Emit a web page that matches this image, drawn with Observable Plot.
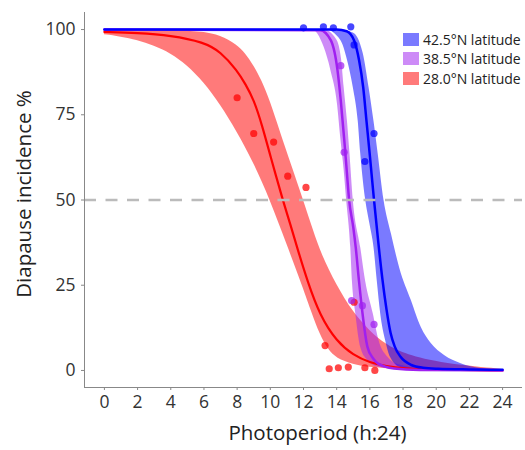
<!DOCTYPE html>
<html>
<head>
<meta charset="utf-8">
<script src="https://cdn.jsdelivr.net/npm/d3@7"></script>
<script src="https://cdn.jsdelivr.net/npm/@observablehq/plot@0.6"></script>
<style>
  body { margin: 0; background: white; }
  #wrap { position: relative; width: 525px; height: 450px; font-family: "Open Sans", sans-serif; }
  #legend { position: absolute; left: 403px; top: 30px; }
  .row { display: flex; align-items: center; height: 19.3px; }
  .sw { width: 16px; height: 13px; margin-right: 4px; }
  .lab { font-size: 14px; color: #222; white-space: nowrap; }
</style>
</head>
<body>
<div id="wrap"><div id="legend"></div></div>
<script>
// ---------- data ----------
const groups = ["42.5°N latitude", "38.5°N latitude", "28.0°N latitude"];
const xTicks = [0, 2, 4, 6, 8, 10, 12, 14, 16, 18, 20, 22, 24];
const yTicks = [0, 25, 50, 75, 100];
const xDomain = [-1.2, 25.2];
const yDomain = [-5, 105];
const refLevel = [50];

// fitted curves (photoperiod, diapause %)
const lineBlue = [[0,100],[14,100],[14.6,99.5],[15.05,96.8],[15.35,91],[15.6,83],[15.8,73],[16.0,63],[16.25,50],[16.5,38],[16.75,27],[17.0,18],[17.25,11],[17.5,7],[17.85,4],[18.5,1.6],[19.2,0.8],[20.1,0.5],[22,0.3],[24,0.2]];
const linePurple = [[0,100],[13,99.8],[13.65,96.8],[14.05,88],[14.25,79],[14.45,68],[14.6,59],[14.75,50],[15.0,42],[15.15,36],[15.35,26],[15.55,17],[15.85,7],[16.2,3.5],[16.5,2],[17.45,0.6],[19,0.15],[24,0]];
const lineRed = [[0,99.3],[2,99],[4,98.3],[6,96.3],[7,93.5],[8,88],[8.5,84],[9,79.5],[9.5,72],[10,63],[10.75,50],[11.2,43],[11.65,35.5],[12.25,26],[13,16],[14,8.5],[15,4.5],[16,2.3],[17,1.2],[18,0.6],[20,0.2],[24,0]];

// confidence bands: lower edge and upper edge
const bandBlueLower = [[0,100],[13.3,100],[14.25,96.8],[14.65,91],[15.0,83],[15.3,73],[15.45,63.6],[15.75,50],[16.0,43],[16.25,36],[16.45,26],[16.65,16.7],[16.95,8.8],[17.25,3.8],[17.85,0.9],[19,0.2],[24,0]];
const bandBlueUpper = [[0,100],[14,100],[15,99],[15.6,93],[15.95,83],[16.25,73],[16.5,63.6],[16.85,50],[17.3,40],[17.8,30],[18.5,20.5],[19.1,12.6],[19.7,7.9],[20.5,4.4],[21.5,2],[22.7,0.6],[24,0.2]];
const bandPurpleLower = [[0,100],[12.5,100],[13.25,94.7],[13.65,88],[14.05,78],[14.25,68],[14.45,58.7],[14.6,50],[14.85,36],[14.95,26],[15.15,16.7],[15.45,6.7],[15.85,3],[16.5,1],[18,0.1],[24,0]];
const bandPurpleUpper = [[0,100],[13.2,100],[14.0,97],[14.3,91],[14.45,83],[14.65,73],[14.8,63.6],[15.0,50],[15.45,36],[15.75,26],[16.2,16.7],[16.55,8.8],[17.1,3.8],[17.85,1.5],[19.5,0.3],[24,0]];
const bandRedLower = [[0,98.5],[1,97.8],[2,96.8],[3,95.2],[4,93],[5,89.5],[6,84.5],[7,78],[8,70],[9,61],[10,50],[11,37],[12,24],[12.5,17],[13,10.5],[13.5,6],[14,3.5],[15,1.7],[16,0.8],[18,0.2],[20,0.05],[24,0]];
const bandRedUpper = [[0,100],[2,100],[4,99.8],[6,99.3],[7,98.2],[8,95.5],[8.5,93],[9,89.5],[9.5,85],[10,79],[10.6,70],[11.3,60],[12,50],[12.6,41],[13.1,34],[14,25],[15,17],[16,11.5],[17,7.5],[18,5],[20,2.2],[24,0.3]];

// observations
const dotsBlue = [[12.0,100.5],[13.2,100.8],[13.8,100.5],[14.85,100.8],[15.05,95.5],[16.25,69.5],[15.7,61.3]];
const dotsPurple = [[14.25,89.4],[14.45,64],[14.9,20.5],[15.55,19],[16.25,13.5]];
const dotsRed = [[8.0,80],[9.0,69.5],[10.2,67],[11.05,57],[12.15,53.7],[13.3,7.3],[13.55,0.5],[14.1,0.8],[14.7,1],[15.05,20],[15.7,0.8],[16.3,0]];

// ---------- build ----------
const pts = (arr, g) => arr.map(([x, y]) => ({x, y, g}));
const band = (lo, up, g) => lo.map((p, i) => ({x1: p[0], y1: p[1], x2: up[i][0], y2: up[i][1], g}));
const [gB, gP, gR] = groups;
const colorRange = ["#0000FF", "#A020F0", "#FF0000"];
const bandOpacity = 0.52;

const areaOpts = {x1: "x1", y1: "y1", x2: "x2", y2: "y2", fill: "g", fillOpacity: bandOpacity, curve: "monotone-x"};
const lineOpts = {x: "x", y: "y", stroke: "g", strokeWidth: 2.5, curve: "monotone-x"};
const dotOpts = {x: "x", y: "y", fill: "g", fillOpacity: 0.72, r: 3.6};

const chart = Plot.plot({
  width: 525, height: 450,
  marginLeft: 84, marginRight: 3, marginTop: 12, marginBottom: 63,
  style: {fontFamily: "Open Sans, sans-serif", background: "white"},
  x: {domain: xDomain},
  y: {domain: yDomain},
  color: {domain: groups, range: colorRange},
  marks: [
    Plot.area(band(bandRedLower, bandRedUpper, gR), {...areaOpts, curve: "basis"}),
    Plot.area(band(bandPurpleLower, bandPurpleUpper, gP), areaOpts),
    Plot.area(band(bandBlueLower, bandBlueUpper, gB), areaOpts),
    Plot.line(pts(lineRed, gR), {...lineOpts, strokeWidth: 2.2, curve: "basis"}),
    Plot.line(pts(linePurple, gP), lineOpts),
    Plot.line(pts(lineBlue, gB), lineOpts),
    Plot.ruleY(refLevel, {stroke: "#bbbbbb", strokeWidth: 2.5, strokeDasharray: "12,9.5"}),
    Plot.dot(pts(dotsRed, gR), dotOpts),
    Plot.dot(pts(dotsPurple, gP), dotOpts),
    Plot.dot(pts(dotsBlue, gB), dotOpts),
    Plot.ruleX([xDomain[0]], {stroke: "#888"}),
    Plot.ruleY([yDomain[0]], {stroke: "#888"}),
    Plot.axisY(yTicks, {tickSize: 3, tickPadding: 6, fontSize: 17.5, stroke: "#888", fill: "#333", label: null}),
    Plot.axisX(xTicks, {tickSize: 3, tickPadding: 5, fontSize: 17.5, stroke: "#888", fill: "#333", label: null}),
    Plot.text(["Photoperiod (h:24)"], {text: d => d, frameAnchor: "bottom", dy: 52, dx: 14, fontSize: 20.5, fill: "#222"}),
    Plot.text(["Diapause incidence %"], {text: d => d, frameAnchor: "left", textAnchor: "middle", dx: -60, dy: -6, rotate: -90, fontSize: 20.5, fill: "#222"})
  ]
});
document.getElementById("wrap").prepend(chart);

// legend
const legend = document.getElementById("legend");
groups.forEach((g, i) => {
  const row = document.createElement("div");
  row.className = "row";
  const sw = document.createElement("div");
  sw.className = "sw";
  sw.style.background = colorRange[i];
  sw.style.opacity = bandOpacity;
  const lab = document.createElement("span");
  lab.className = "lab";
  lab.textContent = g;
  row.append(sw, lab);
  legend.append(row);
});
</script>
</body>
</html>
